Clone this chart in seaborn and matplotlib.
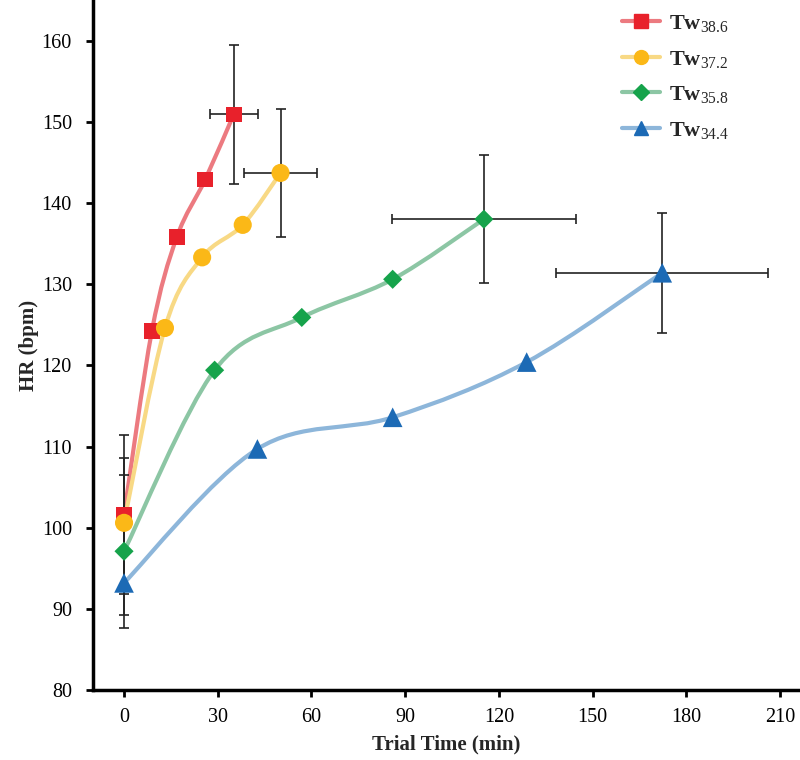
import numpy as np
import pandas as pd
import matplotlib
matplotlib.use('Agg')
import matplotlib.pyplot as plt
from matplotlib.path import Path
from matplotlib.patches import PathPatch
from matplotlib.lines import Line2D
import seaborn as sns

# Données
series = ['38.6', '37.2', '35.8', '34.4']

time_386 = [0, 8.9, 16.9, 26.0, 35.1]
hr_386 = [101.6, 124.2, 135.8, 142.9, 150.9]

time_372 = [0, 13.1, 25.0, 38.0, 50.1]
hr_372 = [100.6, 124.6, 133.3, 137.3, 143.7]

time_358 = [0, 29.0, 56.9, 86.0, 115.2]
hr_358 = [97.1, 119.4, 125.9, 130.6, 138.0]

time_344 = [0, 42.7, 86.0, 128.9, 172.3]
hr_344 = [93.2, 109.7, 113.6, 120.4, 131.4]

# Barres d'erreur (premier et dernier point)
yerr_first = [9.8, 8.0, 9.4, 4.0]
yerr_last = [8.6, 7.9, 7.9, 7.4]
xerr_last = [7.7, 11.6, 29.4, 33.9]

times = [time_386, time_372, time_358, time_344]
hrs = [hr_386, hr_372, hr_358, hr_344]

marker_colors = ['#E8212B', '#FBB817', '#16A34B', '#1C6AB5']
line_colors = ['#EC7A80', '#F8D985', '#8CC6A4', '#8DB6DA']
markers = ['s', 'o', 'D', '^']
sizes = [130, 170, 95, 200]

sns.set_style('ticks')
plt.rcParams['font.family'] = ['Liberation Serif', 'DejaVu Serif']
plt.rcParams['mathtext.fontset'] = 'custom'
plt.rcParams['mathtext.rm'] = 'Liberation Serif'
plt.rcParams['mathtext.default'] = 'rm'

rows = []
for s, t, h in zip(series, times, hrs):
    for a, b in zip(t, h):
        rows.append({'serie': s, 'time': a, 'hr': b})
df = pd.DataFrame(rows)


def smooth_path(x, y):
    # courbe lissée (Bézier type Catmull-Rom passant par les points)
    pts = np.column_stack([x, y]).astype(float)
    n = len(pts)
    verts = [pts[0]]
    codes = [Path.MOVETO]
    for i in range(n - 1):
        p0 = pts[i - 1] if i > 0 else pts[i]
        p1, p2 = pts[i], pts[i + 1]
        p3 = pts[i + 2] if i + 2 < n else pts[i + 1]
        verts += [p1 + (p2 - p0) / 6, p2 - (p3 - p1) / 6, p2]
        codes += [Path.CURVE4] * 3
    return Path(verts, codes)


fig = plt.figure(figsize=(8, 7.6), dpi=100)
ax = fig.add_axes([0.116, 0.092, 0.884, 0.908])

for i in range(4):
    ax.add_patch(PathPatch(smooth_path(times[i], hrs[i]), fill=False,
                           edgecolor=line_colors[i], lw=3, zorder=2,
                           capstyle='round'))
    t, h = times[i], hrs[i]
    ax.errorbar([t[0]], [h[0]], yerr=[yerr_first[i]], fmt='none',
                ecolor='#222222', elinewidth=1.2, capsize=3.5, capthick=1.2,
                zorder=3)
    ax.errorbar([t[-1]], [h[-1]], yerr=[yerr_last[i]], xerr=[xerr_last[i]],
                fmt='none', ecolor='#222222', elinewidth=1.2, capsize=3.5,
                capthick=1.2, zorder=3)

for i, s in enumerate(series):
    sub = df[df['serie'] == s]
    sns.scatterplot(data=sub, x='time', y='hr', marker=markers[i],
                    color=marker_colors[i], s=sizes[i], edgecolor='none',
                    linewidth=0, zorder=4, ax=ax, legend=False)

ax.set_xlim(-10, 216.4)
ax.set_ylim(80, 165)
ax.set_xticks(range(0, 211, 30))
ax.set_yticks(range(80, 161, 10))
ax.tick_params(axis='both', labelsize=14.5, width=2, length=5, direction='out',
               colors='black')
ax.tick_params(axis='y', pad=10)
ax.tick_params(axis='x', pad=8)
ax.set_xlabel('Trial Time (min)', fontsize=15, fontweight='bold', labelpad=5)
ax.set_ylabel('HR (bpm)', fontsize=15, fontweight='bold', labelpad=2)
for side in ['left', 'bottom']:
    ax.spines[side].set_linewidth(2.5)
    ax.spines[side].set_color('black')
sns.despine(ax=ax)

handles = []
for i, s in enumerate(series):
    handles.append(Line2D([], [], color=line_colors[i], lw=3,
                          marker=markers[i], markersize=10 if i != 2 else 8,
                          markerfacecolor=marker_colors[i],
                          markeredgecolor=marker_colors[i]))
labels = [r'Tw$_{%s}$' % s for s in series]
leg = fig.legend(handles, labels, loc='upper left',
                 bbox_to_anchor=(0.777, 0.983), bbox_transform=fig.transFigure,
                 frameon=False, handlelength=1.75, handletextpad=0.4,
                 labelspacing=0.66, borderpad=0, borderaxespad=0,
                 prop={'family': 'Liberation Serif', 'weight': 'bold', 'size': 16})

fig.savefig('out.png', dpi=100)
